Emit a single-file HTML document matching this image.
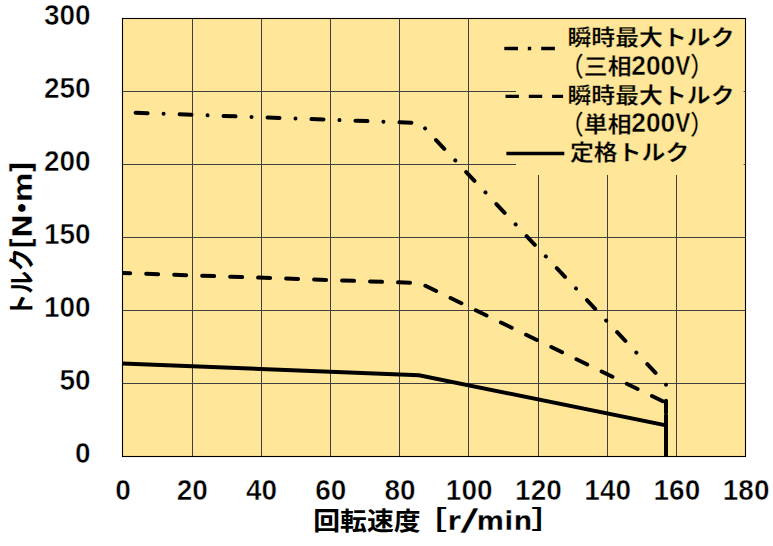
<!DOCTYPE html>
<html lang="ja"><head><meta charset="utf-8"><title>トルク特性</title>
<style>html,body{margin:0;padding:0;background:#fff;}body{width:773px;height:546px;overflow:hidden;}svg{display:block;}text{font-family:"Liberation Sans", "Noto Sans CJK JP", sans-serif;font-weight:bold;fill:#000;}.dj{font-family:"DejaVu Sans","Liberation Sans",sans-serif;}</style>
</head><body>
<svg width="773" height="546" viewBox="0 0 773 546">
<rect x="0" y="0" width="773" height="546" fill="#fff"/>
<rect x="122.5" y="18.5" width="623.0" height="438.0" fill="#FFE699"/>
<path d="M192.5 18.5 V456.5 M261.5 18.5 V456.5 M330.5 18.5 V456.5 M399.5 18.5 V456.5 M468.5 18.5 V456.5 M538.5 18.5 V456.5 M607.5 18.5 V456.5 M676.5 18.5 V456.5 M122.5 383.5 H745.5 M122.5 310.5 H745.5 M122.5 237.5 H745.5 M122.5 164.5 H745.5 M122.5 91.5 H745.5" stroke="#3f3f3f" stroke-width="1" fill="none"/>
<rect x="516.0" y="19.0" width="227.6" height="156.0" fill="#FFE699"/>
<rect x="122.5" y="18.5" width="623.0" height="438.0" fill="none" stroke="#000" stroke-width="1.1"/>
<clipPath id="pc"><rect x="122.5" y="18.5" width="623.0" height="438.5"/></clipPath>
<g clip-path="url(#pc)" fill="none" stroke="#000" stroke-width="4" stroke-linecap="round" stroke-linejoin="round">
<path d="M135.6 112.7 L420 123 L666.0 384 L666.0 456.5" stroke-dasharray="12 16 0.01 15.99"/>
<path d="M122.5 273.0 L420 283.1 L666.0 402.8 L666.0 456.5" stroke-dasharray="12 16" stroke-dashoffset="4.3"/>
<path d="M122.5 363.5 L419 375.2 L666.0 425.4 L666.0 458" stroke-linecap="butt" stroke-linejoin="miter"/>
</g>
<g fill="none" stroke="#000" stroke-width="3.4">
<path d="M504.3 48.5 H563.5" stroke-dasharray="13.7 9.8 3.4 10"/>
<path d="M505.5 96.4 H563.1" stroke-dasharray="13.4 9.9"/>
<path d="M506.4 153.5 H564.3"/>
</g>
<text transform="translate(567.50,45.20) scale(1.090,1.000)" font-size="21.90" text-anchor="start" stroke="#FFE699" stroke-width="0.3">瞬時最大トルク</text>
<text transform="translate(560.00,74.20) scale(1.090,1.000)" font-size="21.90" stroke="#FFE699" stroke-width="0.3"><tspan x="0.00" y="1.50" font-size="26.72" textLength="21.90" lengthAdjust="spacingAndGlyphs" font-weight="500">（</tspan><tspan x="21.90" y="0.00">三相</tspan><tspan x="65.41" y="0.30" font-size="28.14" textLength="40.26" lengthAdjust="spacingAndGlyphs" stroke="#FFE699" stroke-width="0.5">200</tspan><tspan x="105.69" y="0.30" font-size="28.14" textLength="13.84" lengthAdjust="spacingAndGlyphs" stroke="#FFE699" stroke-width="0.5">V</tspan><tspan x="119.27" y="1.50" font-size="26.72" textLength="21.90" lengthAdjust="spacingAndGlyphs" font-weight="500">）</tspan></text>
<text transform="translate(567.50,103.20) scale(1.090,1.000)" font-size="21.90" text-anchor="start" stroke="#FFE699" stroke-width="0.3">瞬時最大トルク</text>
<text transform="translate(560.00,132.00) scale(1.090,1.000)" font-size="21.90" stroke="#FFE699" stroke-width="0.3"><tspan x="0.00" y="1.50" font-size="26.72" textLength="21.90" lengthAdjust="spacingAndGlyphs" font-weight="500">（</tspan><tspan x="21.90" y="0.00">単相</tspan><tspan x="65.41" y="0.30" font-size="28.14" textLength="40.26" lengthAdjust="spacingAndGlyphs" stroke="#FFE699" stroke-width="0.5">200</tspan><tspan x="105.69" y="0.30" font-size="28.14" textLength="13.84" lengthAdjust="spacingAndGlyphs" stroke="#FFE699" stroke-width="0.5">V</tspan><tspan x="119.27" y="1.50" font-size="26.72" textLength="21.90" lengthAdjust="spacingAndGlyphs" font-weight="500">）</tspan></text>
<text transform="translate(570.00,160.00) scale(1.090,1.000)" font-size="21.90" text-anchor="start" stroke="#FFE699" stroke-width="0.3">定格トルク</text>
<text transform="translate(90.60,463.30) scale(1.000,1.070)" font-size="28.00" text-anchor="end" stroke="#fff" stroke-width="0.5">0</text>
<text transform="translate(90.60,390.30) scale(1.000,1.070)" font-size="28.00" text-anchor="end" stroke="#fff" stroke-width="0.5">50</text>
<text transform="translate(90.60,317.30) scale(1.000,1.070)" font-size="28.00" text-anchor="end" stroke="#fff" stroke-width="0.5">100</text>
<text transform="translate(90.60,244.30) scale(1.000,1.070)" font-size="28.00" text-anchor="end" stroke="#fff" stroke-width="0.5">150</text>
<text transform="translate(90.60,171.30) scale(1.000,1.070)" font-size="28.00" text-anchor="end" stroke="#fff" stroke-width="0.5">200</text>
<text transform="translate(90.60,98.30) scale(1.000,1.070)" font-size="28.00" text-anchor="end" stroke="#fff" stroke-width="0.5">250</text>
<text transform="translate(90.60,25.30) scale(1.000,1.070)" font-size="28.00" text-anchor="end" stroke="#fff" stroke-width="0.5">300</text>
<text transform="translate(123.10,500.10) scale(1.000,1.070)" font-size="28.00" text-anchor="middle" stroke="#fff" stroke-width="0.5">0</text>
<text transform="translate(192.32,500.10) scale(1.000,1.070)" font-size="28.00" text-anchor="middle" stroke="#fff" stroke-width="0.5">20</text>
<text transform="translate(261.54,500.10) scale(1.000,1.070)" font-size="28.00" text-anchor="middle" stroke="#fff" stroke-width="0.5">40</text>
<text transform="translate(330.77,500.10) scale(1.000,1.070)" font-size="28.00" text-anchor="middle" stroke="#fff" stroke-width="0.5">60</text>
<text transform="translate(399.99,500.10) scale(1.000,1.070)" font-size="28.00" text-anchor="middle" stroke="#fff" stroke-width="0.5">80</text>
<text transform="translate(469.21,500.10) scale(1.000,1.070)" font-size="28.00" text-anchor="middle" stroke="#fff" stroke-width="0.5">100</text>
<text transform="translate(538.43,500.10) scale(1.000,1.070)" font-size="28.00" text-anchor="middle" stroke="#fff" stroke-width="0.5">120</text>
<text transform="translate(607.66,500.10) scale(1.000,1.070)" font-size="28.00" text-anchor="middle" stroke="#fff" stroke-width="0.5">140</text>
<text transform="translate(676.88,500.10) scale(1.000,1.070)" font-size="28.00" text-anchor="middle" stroke="#fff" stroke-width="0.5">160</text>
<text transform="translate(746.10,500.10) scale(1.000,1.070)" font-size="28.00" text-anchor="middle" stroke="#fff" stroke-width="0.5">180</text>
<text transform="translate(313.30,529.60) scale(1.000,0.945)" font-size="26.80"><tspan x="0.00" y="0.00">回転速度</tspan><tspan x="100.10" y="-0.90" textLength="33.50" lengthAdjust="spacingAndGlyphs">［</tspan><tspan x="134.20" y="0.63" font-size="28.57" textLength="13.30" lengthAdjust="spacingAndGlyphs" class="dj" stroke="#fff" stroke-width="0.5">r</tspan><tspan x="146.70" y="0.11" font-size="32.00" textLength="18.73" lengthAdjust="spacingAndGlyphs" class="dj" stroke="#fff" stroke-width="0.5">/</tspan><tspan x="163.30" y="0.63" font-size="28.15" textLength="55.77" lengthAdjust="spacingAndGlyphs" class="dj" stroke="#fff" stroke-width="0.5">min</tspan><tspan x="217.90" y="-0.90" textLength="33.50" lengthAdjust="spacingAndGlyphs">］</tspan></text>
<text transform="translate(30.50,316.50) rotate(-90)" font-size="26.70"><tspan x="0.00" y="0.00" textLength="68.08" lengthAdjust="spacingAndGlyphs">トルク</tspan><tspan x="67.50" y="1.00" font-size="30.16" textLength="11.87" lengthAdjust="spacingAndGlyphs" class="dj" stroke="#fff" stroke-width="0.5">[</tspan><tspan x="78.20" y="1.00" font-size="26.50" textLength="24.40" lengthAdjust="spacingAndGlyphs" class="dj" stroke="#fff" stroke-width="0.5">N</tspan><tspan x="101.47" y="-0.40" font-size="22.00" class="dj">•</tspan><tspan x="113.97" y="1.00" font-size="26.50" textLength="30.37" lengthAdjust="spacingAndGlyphs" class="dj" stroke="#fff" stroke-width="0.5">m</tspan><tspan x="143.00" y="1.00" font-size="30.16" textLength="11.87" lengthAdjust="spacingAndGlyphs" class="dj" stroke="#fff" stroke-width="0.5">]</tspan></text>
</svg></body></html>
